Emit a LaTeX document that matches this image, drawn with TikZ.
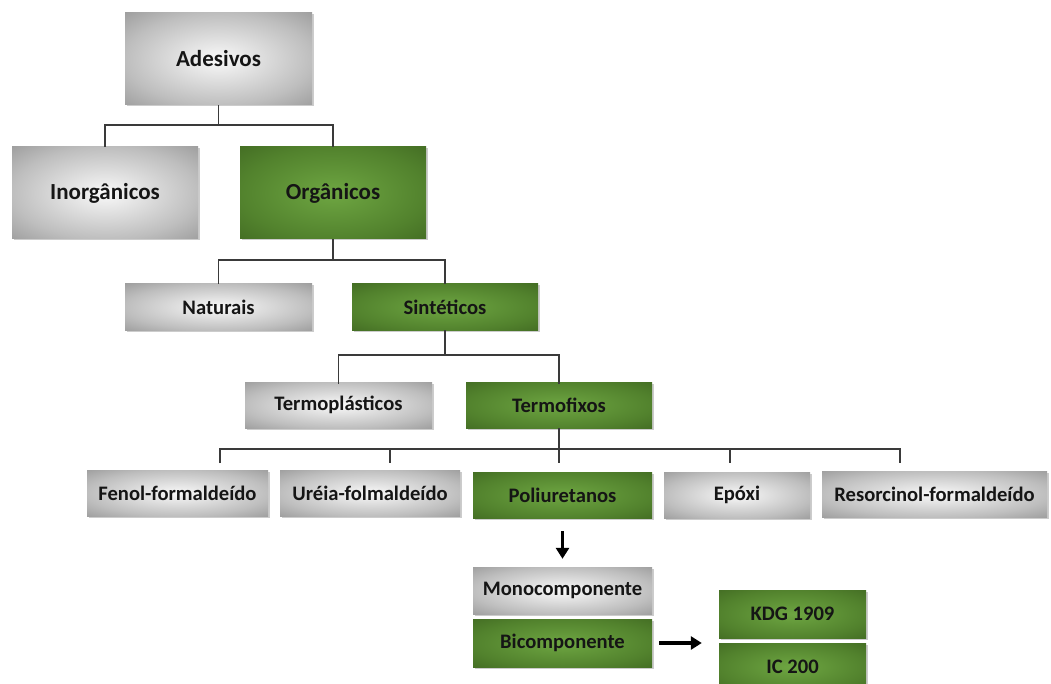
\documentclass[tikz,border=0pt]{standalone}
\usepackage{fontspec}
\setmainfont{Carlito}
\usetikzlibrary{shadows,arrows.meta}

\definecolor{lineclr}{HTML}{3A3A3A}
\definecolor{txtclr}{HTML}{151515}
\definecolor{grayin}{HTML}{F9F9F9}
\definecolor{grayout}{HTML}{BEBEBE}
\definecolor{graycorner}{HTML}{9E9E9E}
\definecolor{greenin}{RGB}{110,166,66}
\definecolor{greenout}{RGB}{82,130,45}
\definecolor{greencorner}{RGB}{68,110,36}

\pgfdeclareradialshading{grayshade}{\pgfpoint{0bp}{0bp}}{%
  color(0bp)=(grayin); color(25bp)=(grayout); color(36bp)=(graycorner); color(50bp)=(graycorner)}
\pgfdeclareradialshading{greenshade}{\pgfpoint{0bp}{0bp}}{%
  color(0bp)=(greenin); color(25bp)=(greenout); color(36bp)=(greencorner); color(50bp)=(greencorner)}

\tikzset{
  box/.style={inner sep=0pt, text=txtclr, font=\fontsize{20.6}{24}\selectfont\bfseries,
    drop shadow={shadow xshift=1.5pt, shadow yshift=-1.5pt, opacity=0.2, fill=black}},
  graybox/.style={box, shading=grayshade},
  greenbox/.style={box, shading=greenshade},
  big/.style={font=\fontsize{23}{27}\selectfont\bfseries},
  tree/.style={draw=lineclr, line width=1.6pt},
  arr/.style={draw=black, line width=3.2pt, -{Triangle[length=11pt,width=13pt]}},
}

\begin{document}
\begin{tikzpicture}[x=1pt,y=-1pt]
\useasboundingbox[fill=white] (0,0) rectangle (1051,684);

% level 1-2
\node[graybox,big,minimum width=187pt,minimum height=92pt] (ades) at (218.5,59) {Adesivos};
\node[graybox,big,minimum width=186pt,minimum height=92pt] (inorg) at (105,193) {Inorgânicos};
\node[greenbox,big,minimum width=186pt,minimum height=92pt] (org) at (333,193) {Orgânicos};

% level 3
\node[graybox,minimum width=187pt,minimum height=46pt] (nat) at (218.5,307) {Naturais};
\node[greenbox,minimum width=186pt,minimum height=46pt] (sint) at (445,307) {Sintéticos};

% level 4
\node[graybox,minimum width=187pt,minimum height=46pt] (tplast) at (338.5,405) {Termoplásticos};
\node[greenbox,minimum width=186pt,minimum height=46pt] (tfix) at (559,405) {Termofixos};

% level 5
\node[graybox,minimum width=181pt,minimum height=46pt] (fenol) at (177.5,493) {Fenol-formaldeído};
\node[graybox,minimum width=180pt,minimum height=46pt] (ureia) at (370,493) {Uréia-folmaldeído};
\node[greenbox,minimum width=179pt,minimum height=46pt] (poli) at (562.5,495) {Poliuretanos};
\node[graybox,minimum width=146pt,minimum height=46pt] (epoxi) at (737,495) {Epóxi};
\node[graybox,minimum width=225pt,minimum height=46pt] (resor) at (934.5,494) {Resorcinol-formaldeído};

% polyurethane types
\node[graybox,minimum width=179pt,minimum height=47pt] (mono) at (562.5,590.5) {Monocomponente};
\node[greenbox,minimum width=179pt,minimum height=48pt] (bico) at (562.5,643) {Bicomponente};
\node[greenbox,minimum width=147pt,minimum height=48pt] (kdg) at (792.5,614) {KDG 1909};
\node[greenbox,minimum width=147pt,minimum height=48pt] (ic) at (792.5,667) {IC 200};

% tree connectors
\draw[tree] (ades.south) -- (218.5,125) coordinate (j1);
\draw[tree] (inorg.north) -- (105,125) -- (333,125) -- (org.north);
\draw[tree] (org.south) -- (333,260) coordinate (j2);
\draw[tree] (nat.north) -- (218.5,260) -- (445,260) -- (sint.north);
\draw[tree] (sint.south) -- (445,355) coordinate (j3);
\draw[tree] ([yshift=-2pt]tplast.north) -- (338.5,355) -- (559,355) -- ([yshift=-2pt]tfix.north);
\draw[tree] (tfix.south) -- (559,449) coordinate (j4);
\draw[tree] (220,463) coordinate (d1) -- (220,449) -- (900,449) -- (900,463) coordinate (d5);
\draw[tree] (390,449) -- (390,463) coordinate (d2);
\draw[tree] (j4) -- (559,463) coordinate (d3);
\draw[tree] (730,449) -- (730,463) coordinate (d4);

% arrows
\draw[arr] ([yshift=-13pt]poli.south) -- ([yshift=8pt]mono.north);
\draw[arr] ([xshift=7pt]bico.east) -- ([xshift=-17pt]kdg.west |- bico.east);
\end{tikzpicture}
\end{document}
